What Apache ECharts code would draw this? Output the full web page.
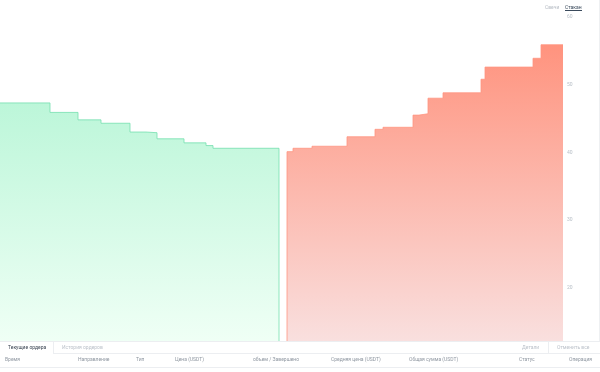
<!DOCTYPE html>
<html>
<head>
<meta charset="utf-8">
<script src="https://cdn.jsdelivr.net/npm/echarts@6/dist/echarts.min.js"></script>
<style>
  html, body { margin:0; padding:0; width:600px; height:372px; overflow:hidden; background:#fff; font-family: Roboto, "Noto Sans", sans-serif; }
  #chart { position:absolute; left:0; top:0; width:600px; height:440px; }
  .t { position:absolute; font-size:5px; line-height:6px; white-space:nowrap; }
  #panel { position:absolute; left:0; top:341px; width:600px; height:31px; background:#fff; border-top:1px solid #eceef1; }
  #rborder { position:absolute; left:599px; top:0; width:1px; height:372px; background:#eef0f2; }
</style>
</head>
<body>
<div id="chart"></div>
<div id="rborder"></div>
<div class="t" style="left:545px;top:4px;color:#b5bbc3;">Свечи</div>
<div class="t" style="left:565px;top:4px;color:#3a4a5c;border-bottom:1px solid #3a4a5c;padding-bottom:0px;">Стакан</div>
<div id="panel">
  <div style="position:absolute;left:53px;top:0;width:547px;height:11px;border-bottom:1px solid #eceef1;border-left:1px solid #eceef1;"></div>
  <div class="t" style="left:8px;top:2px;color:#3a4452;">Текущие ордера</div>
  <div class="t" style="left:62px;top:2px;color:#bcc2ca;">История ордеров</div>
  <div class="t" style="left:522px;top:2px;color:#bcc2ca;">Детали</div>
  <div style="position:absolute;left:548px;top:0;width:1px;height:11px;background:#eceef1;"></div>
  <div class="t" style="left:557px;top:2px;color:#bcc2ca;">Отменить все</div>
  <div style="position:absolute;left:0;top:25px;width:600px;height:1px;background:#eceef1;"></div>
</div>
<div id="heads"></div>
<script>
// Depth chart data (price, cumulative amount)
var bidPrices = [0, 5.0, 7.8, 10.1, 13.0, 14.6, 15.7, 18.4, 20.6, 21.3, 27.6, 27.9];
var bidDepth  = [47.3, 45.9, 44.8, 44.3, 43.0, 42.9, 42.0, 41.4, 41.0, 40.6, 40.6, 0];
var askPrices = [28.4, 28.7, 29.3, 31.2, 34.7, 37.5, 38.3, 41.3, 41.9, 42.8, 44.3, 48.1, 48.5, 53.3, 54.1, 56.3];
var askDepth  = [0, 40.1, 40.6, 40.9, 42.3, 43.4, 43.7, 45.5, 45.7, 48.0, 48.8, 50.8, 52.6, 53.9, 55.9, 55.9];
var yTicks = [0, 10, 20, 30, 40, 50, 60];
var columns = ['Время', 'Направление', 'Тип', 'Цена (USDT)', 'объем / Завершено', 'Средняя цена (USDT)', 'Общая сумма (USDT)', 'Статус', 'Операция'];
var colX = [5, 78, 136, 175, 253, 331, 409, 519, 569];

var heads = document.getElementById('heads');
columns.forEach(function (c, i) {
  var d = document.createElement('div');
  d.className = 't';
  d.style.left = colX[i] + 'px';
  d.style.top = '356px';
  d.style.color = '#8f97a1';
  d.textContent = c;
  heads.appendChild(d);
});

function zip(a, b) { return a.map(function (v, i) { return [v, b[i]]; }); }

var chart = echarts.init(document.getElementById('chart'));
chart.setOption({
  animation: false,
  grid: { left: 0, right: 37, top: 17, bottom: 17 },
  xAxis: { type: 'value', min: 0, max: 56.3, show: false },
  yAxis: {
    type: 'value', position: 'right', min: yTicks[0], max: yTicks[yTicks.length - 1], interval: 10,
    axisLine: { show: false }, axisTick: { show: false }, splitLine: { show: false },
    axisLabel: { color: '#b9c0c8', fontSize: 5, margin: 4, fontFamily: 'Roboto' }
  },
  series: [
    {
      type: 'line', step: 'end', symbol: 'none', data: zip(bidPrices, bidDepth),
      lineStyle: { color: '#74dfae', width: 0.8 },
      areaStyle: { origin: 'start', opacity: 1, color: { type: 'linear', x: 0, y: 0, x2: 0, y2: 1, colorStops: [
        { offset: 0, color: '#bcf6d9' }, { offset: 0.74, color: '#effff5' }, { offset: 1, color: '#ffffff' } ] } }
    },
    {
      type: 'line', step: 'end', symbol: 'none', data: zip(askPrices, askDepth),
      lineStyle: { color: '#ff9682', width: 0.8 },
      areaStyle: { origin: 'start', opacity: 1, color: { type: 'linear', x: 0, y: 0, x2: 0, y2: 1, colorStops: [
        { offset: 0, color: '#ff937e' }, { offset: 0.78, color: '#f9dfde' }, { offset: 1, color: '#fcefef' } ] } }
    }
  ]
});
</script>
</body>
</html>
